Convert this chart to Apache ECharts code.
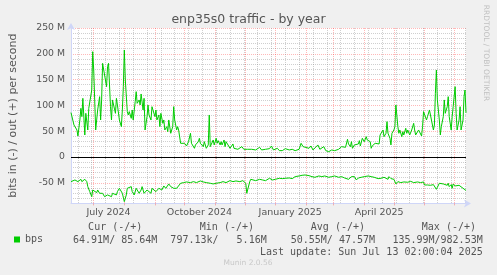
<!DOCTYPE html>
<html>
<head>
<meta charset="utf-8">
<script src="https://cdn.jsdelivr.net/npm/echarts@6/dist/echarts.min.js"></script>
<style>
html,body{margin:0;padding:0;background:#f0f0f0;}
#chart{width:497px;height:275px;}
</style>
</head>
<body>
<div id="chart"></div>
<script>
// ---- data (values in Mbit/s, day offset from 2024-06-08) ----
const startDay = '2024-06-08';
const dayCount = 400;
const monthNames = ['January','February','March','April','May','June','July','August','September','October','November','December'];
const outBps = [[0,86],[1,87.9],[3,62],[6,52.3],[7,40.7],[9,71.7],[10,94.3],[11,78.2],[12,113.7],[14,42.6],[15,84.6],[17,52.3],[18,94.3],[21,129.8],[22,204.1],[23,168.6],[25,52.3],[26,71.7],[27,91.1],[29,116.9],[30,71.7],[31,110.5],[32,181.5],[34,184.8],[36,136.3],[37,175.1],[38,181.5],[40,97.5],[41,71.7],[42,110.5],[43,113.7],[45,84.6],[46,113.7],[47,100.8],[49,71.7],[51,58.8],[52,91.1],[53,136.3],[54,207.4],[55,149.2],[57,87.9],[58,81.4],[59,87.9],[61,74.9],[62,91.1],[63,71.7],[65,107.2],[66,126.6],[67,104],[69,110.5],[70,100.8],[71,122.1],[73,91.1],[74,113.7],[75,52.3],[77,78.2],[78,100.8],[79,81.4],[81,71.7],[82,97.5],[83,94.3],[85,78.2],[86,91.1],[87,71.7],[89,81.4],[90,58.8],[91,84.6],[93,65.2],[94,71.7],[95,52.3],[97,58.8],[98,49.1],[99,71.7],[101,45.9],[103,58.8],[104,97.5],[105,71.7],[107,52.3],[108,58.8],[109,52.3],[111,26.5],[113,23.3],[115,26.5],[117,21.3],[119,29.7],[121,45.9],[122,26.5],[123,23.3],[125,16.8],[126,23.3],[127,21.3],[129,29.7],[130,36.2],[131,26.5],[133,23.3],[134,20],[135,29.7],[137,16.8],[138,20],[139,23.3],[140,81.4],[141,20],[143,16.8],[144,32.9],[145,23.3],[147,36.2],[148,26.5],[149,31.7],[151,23.3],[152,29.7],[153,23.3],[155,32.9],[156,20],[157,29.7],[159,23.3],[160,23.3],[161,16.8],[163,20],[164,25.2],[165,16.8],[167,13.6],[169,14.9],[171,13.6],[173,20],[175,14.9],[177,12.3],[179,14.9],[181,16.8],[183,14.9],[185,16.8],[187,13.6],[189,16.8],[191,18.7],[193,13.6],[195,16.8],[197,14.9],[199,17.4],[201,16.1],[203,21.3],[205,13.6],[207,13.6],[209,16.8],[211,12.3],[213,16.1],[214,12.3],[217,16.1],[221,13.6],[224,14.9],[227,12.3],[231,14.9],[233,26.5],[235,20],[237,16.8],[241,16.8],[243,21.3],[245,13.6],[247,16.8],[250,23.3],[252,14.9],[254,16.8],[256,20],[258,12.3],[261,10.3],[264,13.6],[267,12.3],[271,14.9],[274,20],[276,23.3],[278,18.7],[280,34.2],[281,25.2],[283,20],[284,29.7],[285,16.8],[287,23.3],[289,26.5],[291,25.2],[292,31.7],[293,21.3],[295,36.2],[296,38.1],[297,29.7],[299,39.4],[300,32.9],[301,36.2],[303,29.7],[304,16.8],[305,21.3],[307,18.7],[308,26.5],[310,29.7],[312,25.2],[313,42.6],[315,45.9],[316,52.3],[317,39.4],[319,45.9],[320,68.5],[321,45.9],[323,36.2],[324,23.3],[325,45.9],[327,52.3],[328,58.8],[329,100.8],[331,58.8],[332,45.9],[333,52.3],[335,39.4],[336,49.1],[337,42.6],[339,55.6],[340,45.9],[341,52.3],[343,42.6],[344,45.9],[345,52.3],[347,65.2],[348,52.3],[349,42.6],[351,45.9],[352,52.3],[353,49.1],[355,40.7],[356,58.8],[357,87.9],[359,84.6],[360,71.7],[361,78.2],[363,91.1],[364,87.9],[365,71.7],[367,52.3],[368,62],[369,123.4],[370,168.6],[371,110.5],[373,71.7],[374,42.6],[375,58.8],[377,78.2],[378,110.5],[379,84.6],[381,97.5],[382,116.9],[383,78.2],[385,52.3],[386,78.2],[387,97.5],[389,136.3],[390,84.6],[391,52.3],[393,71.7],[394,97.5],[395,52.3],[397,71.7],[398,116.9],[399,129.8],[400,85.6]];
const inBps = [[0,-47.8],[1,-47.8],[4,-44.6],[7,-47.8],[10,-43.3],[11,-47.8],[13,-44.6],[14,-43.3],[16,-47.8],[17,-57.5],[19,-67.2],[21,-76.9],[22,-64],[24,-60.7],[26,-69.1],[27,-64],[29,-70.4],[31,-73.6],[32,-70.4],[34,-76.9],[36,-80.1],[37,-73.6],[39,-70.4],[41,-76.9],[42,-70.4],[44,-67.2],[46,-73.6],[47,-67.2],[49,-60.7],[51,-60.7],[52,-70.4],[54,-86.6],[56,-73.6],[57,-60.7],[59,-64],[61,-57.5],[62,-67.2],[64,-73.6],[66,-60.7],[67,-57.5],[69,-70.4],[71,-64],[72,-57.5],[74,-70.4],[76,-73.6],[77,-64],[79,-60.7],[81,-70.4],[82,-60.7],[84,-57.5],[86,-67.2],[87,-70.4],[89,-60.7],[91,-57.5],[92,-64],[94,-56.2],[96,-60.7],[97,-57.5],[99,-52.3],[101,-57.5],[102,-60.7],[104,-60.7],[106,-57.5],[107,-60.7],[109,-57.5],[111,-51],[112,-47.8],[114,-49.7],[116,-45.9],[117,-48.4],[119,-46.5],[121,-49.7],[122,-47.2],[124,-47.8],[126,-44.6],[127,-49.7],[129,-47.8],[131,-46.5],[134,-48.4],[137,-49.7],[141,-51],[144,-52.3],[146,-54.3],[147,-51],[151,-49.7],[154,-47.8],[157,-49.7],[161,-45.9],[164,-47.8],[167,-46.5],[171,-47.8],[174,-45.9],[176,-44.6],[177,-51],[178,-70.4],[179,-67.2],[181,-47.8],[182,-43.3],[184,-44.6],[187,-45.9],[191,-43.3],[194,-44.6],[197,-45.9],[201,-41.3],[204,-44.6],[207,-43.3],[211,-41.3],[214,-42],[217,-41.3],[221,-40.7],[224,-42],[227,-38.1],[231,-36.8],[234,-35.5],[237,-34.9],[241,-36.2],[244,-38.1],[247,-39.4],[251,-36.8],[254,-38.1],[257,-36.8],[261,-39.4],[264,-38.1],[267,-36.8],[271,-39.4],[274,-38.1],[277,-40.7],[281,-43.3],[284,-38.1],[286,-34.9],[287,-38.1],[289,-44.6],[291,-40.7],[294,-39.4],[297,-38.1],[301,-36.8],[304,-38.1],[307,-39.4],[311,-42],[314,-41.3],[317,-39.4],[321,-43.3],[322,-38.1],[324,-42],[326,-44.6],[327,-43.3],[329,-52.3],[331,-47.8],[332,-45.9],[334,-49.7],[336,-47.2],[337,-48.4],[339,-45.9],[341,-49],[344,-47.2],[347,-49.7],[351,-48.4],[354,-49.7],[357,-48.4],[358,-54.3],[361,-54.3],[364,-54.9],[367,-53.6],[370,-62.7],[371,-58.8],[373,-51],[374,-54.3],[375,-49.7],[377,-52.3],[379,-54.3],[381,-54.9],[382,-51],[383,-57.5],[385,-53.6],[386,-60.7],[387,-52.3],[389,-56.2],[390,-58.8],[391,-56.2],[393,-54.9],[394,-57.5],[395,-53.6],[397,-60.7],[398,-62.7],[400,-64.9]];
const legendHeaders = ['Cur (-/+)','Min (-/+)','Avg (-/+)','Max (-/+)'];
const legendValues = ['64.91M/ 85.64M','797.13k/   5.16M','50.55M/ 47.57M','135.99M/982.53M'];
const lastUpdate = 'Last update: Sun Jul 13 02:00:04 2025';

// categories: one per day
const days = [];
const t0 = Date.parse(startDay + 'T00:00:00Z');
for (let i = 0; i <= dayCount; i++) days.push(new Date(t0 + i * 86400000).toISOString().slice(0, 10));
const parts = v => v.split('-').map(Number);

const GRID_MAJOR = 'rgba(255,0,0,0.28)';
const GRID_MINOR = 'rgba(128,128,128,0.38)';
const AXIS = '#cfd6f8';
const FONT = '#555555';

const chart = echarts.init(document.getElementById('chart'), null, {renderer: 'canvas'});
const headerRight = [142.3, 254, 365, 476];
const valueRight = [157.3, 266.7, 375, 482.7];
const graphics = [];
legendHeaders.forEach((t, i) => graphics.push({type: 'text', x: headerRight[i], y: 227.5, style: {text: t, align: 'right', verticalAlign: 'middle', font: '10px "DejaVu Sans Mono"', fill: FONT}}));
legendValues.forEach((t, i) => graphics.push({type: 'text', x: valueRight[i], y: 240.5, style: {text: t, align: 'right', verticalAlign: 'middle', font: '10px "DejaVu Sans Mono"', fill: FONT}}));
graphics.push({type: 'text', x: 482.7, y: 252, style: {text: lastUpdate, align: 'right', verticalAlign: 'middle', font: '10px "DejaVu Sans Mono"', fill: FONT}});
graphics.push({type: 'text', x: 248, y: 263.5, style: {text: 'Munin 2.0.56', align: 'center', verticalAlign: 'middle', font: '7.5px "DejaVu Sans"', fill: '#c8c8c8'}});
graphics.push({type: 'text', x: 486, y: 53, rotation: -Math.PI / 2, style: {text: 'RRDTOOL / TOBI OETIKER', align: 'center', verticalAlign: 'middle', font: '7.5px "DejaVu Sans"', fill: '#c0c0c0'}});

chart.setOption({
  animation: false,
  backgroundColor: '#f0f0f0',
  textStyle: {fontFamily: 'DejaVu Sans'},
  title: {text: 'enp35s0 traffic - by year', left: 'center', top: 13.5, padding: 0,
    textStyle: {fontSize: 12.5, fontWeight: 'normal', color: FONT, fontFamily: 'DejaVu Sans'}},
  legend: {data: ['bps'], left: 14, top: 234.5, padding: 0, itemWidth: 6, itemHeight: 6, icon: 'rect',
    textStyle: {fontFamily: 'DejaVu Sans Mono', fontSize: 10, color: FONT}},
  grid: {left: 66, top: 28, width: 400, height: 175.4, show: true, backgroundColor: '#ffffff', borderWidth: 0},
  xAxis: [{
    type: 'category', data: days, boundaryGap: false, position: 'bottom',
    axisLine: {show: true, onZero: false, lineStyle: {color: AXIS, width: 1}, symbol: ['none', 'arrow'], symbolSize: [6, 7], symbolOffset: [0, 5]},
    axisTick: {show: true, length: 2, interval: (i, v) => parts(v)[2] === 1, lineStyle: {color: GRID_MAJOR}},
    axisLabel: {interval: (i, v) => { const p = parts(v); return p[2] === 16 && (p[1] - 1) % 3 === 0; },
      formatter: v => { const p = parts(v); return monthNames[p[1] - 1] + ' ' + p[0]; },
      color: FONT, fontSize: 9.5, fontFamily: 'DejaVu Sans', margin: 4.5},
    splitLine: {show: true, interval: (i, v) => parts(v)[2] === 1, lineStyle: {color: GRID_MAJOR, type: [1, 1], width: 1}}
  }, {
    type: 'category', data: days, boundaryGap: false, position: 'bottom',
    axisLine: {show: false}, axisLabel: {show: false},
    axisTick: {show: true, length: 2, interval: i => i % 14 === 7, lineStyle: {color: GRID_MINOR}},
    splitLine: {show: true, interval: i => i % 14 === 7, lineStyle: {color: GRID_MINOR, type: [1, 1], width: 1}}
  }],
  yAxis: {
    type: 'value', min: -90, max: 250, interval: 10,
    name: 'bits in (-) / out (+) per second', nameLocation: 'middle', nameRotate: 90, nameGap: 52,
    nameTextStyle: {color: FONT, fontSize: 11, fontFamily: 'DejaVu Sans'},
    axisLine: {show: true, lineStyle: {color: AXIS, width: 1}, symbol: ['none', 'arrow'], symbolSize: [6, 7], symbolOffset: [0, 5]},
    axisTick: {show: false},
    axisLabel: {formatter: v => (Math.round(v) % 50 === 0 ? (v === 0 ? '0' : v + ' M') : ''), color: FONT, fontSize: 9.3, fontFamily: 'DejaVu Sans', margin: 6},
    splitLine: {show: true, lineStyle: {color: [GRID_MINOR, GRID_MINOR, GRID_MINOR, GRID_MINOR, GRID_MAJOR], type: [1, 1], width: 1}}
  },
  series: [{
    name: 'bps', type: 'line', data: outBps, xAxisIndex: 0, showSymbol: false, symbol: 'none',
    lineStyle: {color: '#00cc00', width: 1}, itemStyle: {color: '#00cc00'},
    markLine: {silent: true, symbol: ['none', 'none'], label: {show: false}, lineStyle: {color: '#000000', width: 1, type: 'solid'}, data: [{yAxis: 0}]}
  }, {
    name: 'bps', type: 'line', data: inBps, xAxisIndex: 0, showSymbol: false, symbol: 'none',
    lineStyle: {color: '#00cc00', width: 1}, itemStyle: {color: '#00cc00'}
  }],
  graphic: graphics
});
</script>
</body>
</html>
